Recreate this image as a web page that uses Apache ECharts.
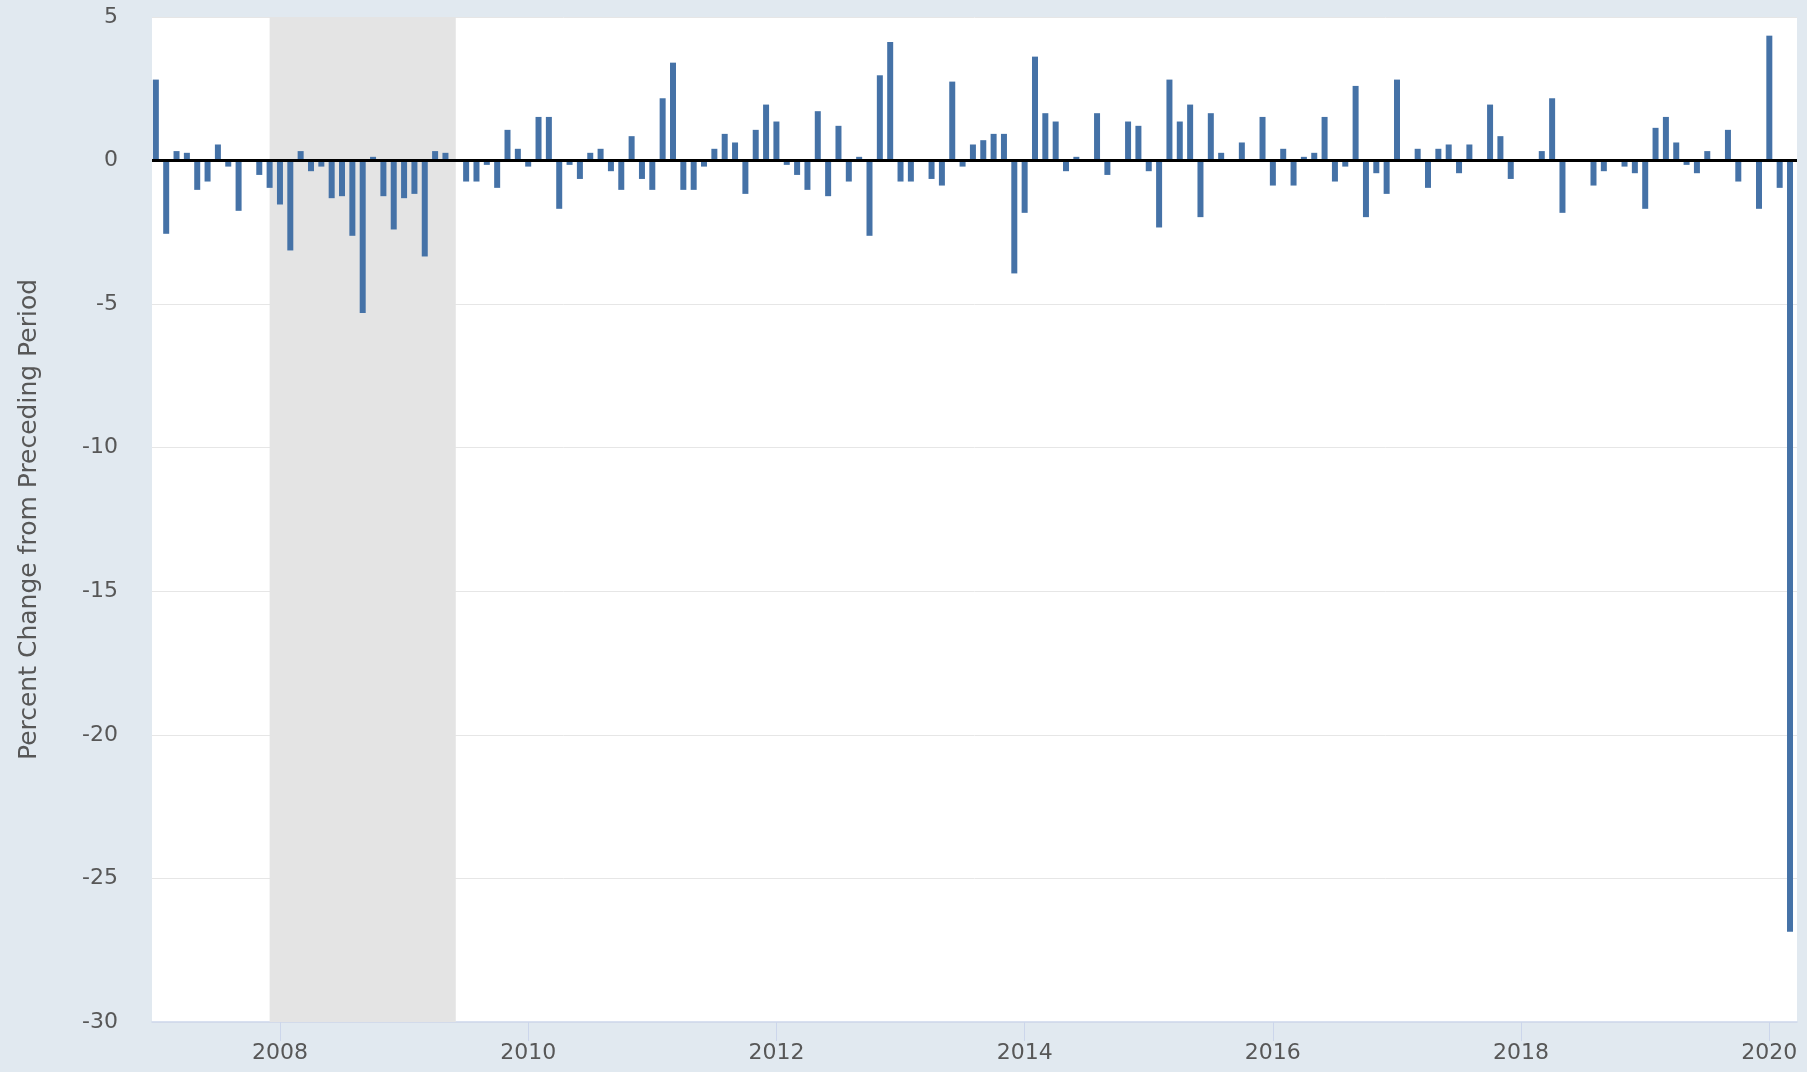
<!DOCTYPE html>
<html>
<head>
<meta charset="utf-8">
<title>Percent Change from Preceding Period</title>
<script src="https://cdn.jsdelivr.net/npm/echarts@6.0.0/dist/echarts.min.js"></script>
<style>
  html, body { margin: 0; padding: 0; background: #e1e9f0; }
  #chart { width: 1807px; height: 1072px; }
</style>
</head>
<body>
<div id="chart"></div>
<script>
// monthly percent change, Jan..Dec of each year
const change2007 = [2.82, -2.55, 0.33, 0.27, -1.02, -0.73, 0.56, -0.21, -1.75, 0, -0.5, -0.95];
const change2008 = [-1.53, -3.13, 0.33, -0.37, -0.21, -1.31, -1.24, -2.62, -5.31, 0.13, -1.24, -2.4];
const change2009 = [-1.31, -1.16, -3.34, 0.33, 0.27, 0, -0.73, -0.73, -0.15, -0.95, 1.07, 0.41];
const change2010 = [-0.21, 1.52, 1.52, -1.68, -0.15, -0.64, 0.27, 0.41, -0.37, -1.02, 0.85, -0.64];
const change2011 = [-1.02, 2.17, 3.41, -1.02, -1.02, -0.21, 0.41, 0.93, 0.63, -1.16, 1.07, 1.95];
const change2012 = [1.36, -0.15, -0.5, -1.02, 1.72, -1.24, 1.21, -0.73, 0.13, -2.62, 2.97, 4.13];
const change2013 = [-0.73, -0.73, 0, -0.64, -0.87, 2.75, -0.21, 0.56, 0.71, 0.93, 0.93, -3.93];
const change2014 = [-1.82, 3.62, 1.65, 1.36, -0.37, 0.13, 0, 1.65, -0.5, 0, 1.36, 1.21];
const change2015 = [-0.37, -2.33, 2.82, 1.36, 1.95, -1.97, 1.65, 0.27, 0, 0.63, 0, 1.52];
const change2016 = [-0.87, 0.41, -0.87, 0.13, 0.27, 1.52, -0.73, -0.21, 2.6, -1.97, -0.44, -1.16];
const change2017 = [2.82, 0, 0.41, -0.95, 0.41, 0.56, -0.44, 0.56, 0, 1.95, 0.85, -0.64];
const change2018 = [0, 0, 0.33, 2.17, -1.82, 0, 0, -0.87, -0.37, 0, -0.21, -0.44];
const change2019 = [-1.68, 1.14, 1.52, 0.63, -0.15, -0.44, 0.33, 0, 1.07, -0.73, 0, -1.68];
const change2020 = [4.35, -0.95, -26.86];

const years = [2007, 2008, 2009, 2010, 2011, 2012, 2013, 2014, 2015, 2016, 2017, 2018, 2019, 2020];
const yearValues = [change2007, change2008, change2009, change2010, change2011, change2012, change2013,
  change2014, change2015, change2016, change2017, change2018, change2019, change2020];

const labelYears = [2008, 2010, 2012, 2014, 2016, 2018, 2020];
const recessionStart = [2007, 12];
const recessionEnd = [2009, 6];
const yAxisName = 'Percent Change from Preceding Period';

// month -> decimal year position on the x axis
function monthPos(year, month) {
  return year + (month - 1) / 12;
}

const barData = [];
years.forEach((year, i) => {
  yearValues[i].forEach((value, m) => {
    barData.push([monthPos(year, m + 1), value]);
  });
});

const textColor = '#575757';
const fontFamily = 'DejaVu Sans';

const chart = echarts.init(document.getElementById('chart'), null, { renderer: 'canvas' });

chart.setOption({
  backgroundColor: '#e1e9f0',
  animation: false,
  grid: {
    left: 152, right: 10, top: 17, bottom: 50,
    show: true, backgroundColor: '#ffffff', borderWidth: 0,
  },
  xAxis: {
    type: 'value',
    min: 2006.969,
    max: 2020.223,
    axisLine: { show: true, onZero: false, lineStyle: { color: '#ccd6eb', width: 1.5 } },
    axisTick: { show: true, customValues: labelYears, length: 19, lineStyle: { color: '#ccd6eb', width: 1 } },
    axisLabel: {
      customValues: labelYears,
      formatter: (value) => String(Math.round(value)),
      color: textColor,
      fontFamily,
      fontSize: 22,
      margin: 20,
    },
    splitLine: { show: false },
  },
  yAxis: {
    type: 'value',
    min: -30,
    max: 5,
    interval: 5,
    name: yAxisName,
    nameLocation: 'middle',
    nameGap: 110,
    nameTextStyle: { color: textColor, fontFamily, fontSize: 25 },
    axisLine: { show: false },
    axisTick: { show: false },
    axisLabel: { color: textColor, fontFamily, fontSize: 22, margin: 34 },
    splitLine: { lineStyle: { color: '#e6e6e6', width: 1 } },
  },
  series: [
    {
      name: 'recession',
      type: 'line',
      data: [],
      z: 1,
      silent: true,
      markArea: {
        silent: true,
        itemStyle: { color: '#e4e4e4' },
        data: [[
          { xAxis: monthPos(recessionStart[0], recessionStart[1]) },
          { xAxis: monthPos(recessionEnd[0], recessionEnd[1]) },
        ]],
      },
    },
    {
      name: 'change',
      type: 'bar',
      data: barData,
      barWidth: 6,
      z: 2,
      itemStyle: { color: '#4572a7' },
      markLine: {
        silent: true,
        symbol: ['none', 'none'],
        label: { show: false },
        lineStyle: { color: '#000000', width: 3, type: 'solid' },
        data: [{ yAxis: 0 }],
      },
    },
  ],
});
</script>
</body>
</html>
